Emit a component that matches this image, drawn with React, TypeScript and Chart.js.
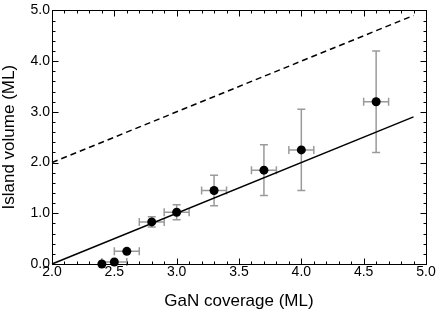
import React, { useEffect, useRef } from "react";
import { Chart, registerables } from "chart.js";

Chart.register(...registerables);

// Measured data
const coverage = [2.4, 2.5, 2.6, 2.8, 3.0, 3.3, 3.7, 4.0, 4.6];
const volume = [0.0, 0.04, 0.25, 0.83, 1.02, 1.45, 1.85, 2.25, 3.2];
const coverageErr = [0, 0.1, 0.1, 0.1, 0.1, 0.1, 0.1, 0.1, 0.1];
const volumeErr = [0, 0, 0, 0.1, 0.15, 0.3, 0.5, 0.8, 1.0];

// Fit line (solid) and reference line (dashed)
const lineX = [2.0, 4.9];
const fitY = [0.0, 2.9];
const refY = [2.0, 4.9];

// Axes
const xMin = 2.0;
const xMax = 5.0;
const xMajorStep = 0.5;
const xMinorStep = 0.1;
const yMin = 0.0;
const yMax = 5.0;
const yMajorStep = 1.0;
const yMinorStep = 0.2;

const FONT = "'Liberation Sans', Arial, Helvetica, sans-serif";

function ticksFrom(min: number, max: number, step: number): number[] {
  const out: number[] = [];
  const n = Math.round((max - min) / step);
  for (let i = 0; i <= n; i++) out.push(min + i * step);
  return out;
}

const framePlugin = {
  id: "frameTicksErr",
  beforeDatasetsDraw(chart: any) {
    const { ctx, chartArea: a, scales } = chart;
    const xs = scales.x;
    const ys = scales.y;
    ctx.save();
    // error bars
    ctx.strokeStyle = "#9a9a9a";
    ctx.lineWidth = 1.5;
    const cap = 4;
    coverage.forEach((cx, i) => {
      const px = xs.getPixelForValue(cx);
      const py = ys.getPixelForValue(volume[i]);
      if (volumeErr[i] > 0) {
        const t = ys.getPixelForValue(volume[i] + volumeErr[i]);
        const b = ys.getPixelForValue(volume[i] - volumeErr[i]);
        ctx.beginPath();
        ctx.moveTo(px, t);
        ctx.lineTo(px, b);
        ctx.moveTo(px - cap, t);
        ctx.lineTo(px + cap, t);
        ctx.moveTo(px - cap, b);
        ctx.lineTo(px + cap, b);
        ctx.stroke();
      }
      if (coverageErr[i] > 0) {
        const l = xs.getPixelForValue(cx - coverageErr[i]);
        const r = xs.getPixelForValue(cx + coverageErr[i]);
        ctx.beginPath();
        ctx.moveTo(l, py);
        ctx.lineTo(r, py);
        ctx.moveTo(l, py - cap);
        ctx.lineTo(l, py + cap);
        ctx.moveTo(r, py - cap);
        ctx.lineTo(r, py + cap);
        ctx.stroke();
      }
    });
    // frame
    ctx.strokeStyle = "#000";
    ctx.lineWidth = 1;
    const L = Math.round(a.left) + 0.5;
    const R = Math.round(a.right) + 0.5;
    const T = Math.round(a.top) + 0.5;
    const B = Math.round(a.bottom) + 0.5;
    ctx.strokeRect(L, T, R - L, B - T);
    // inward ticks on all four sides
    ctx.beginPath();
    ticksFrom(xMin, xMax, xMinorStep).forEach((v) => {
      const r = v / xMajorStep;
      const major = Math.abs(r - Math.round(r)) < 1e-6;
      const len = major ? 6 : 3;
      const px = Math.round(xs.getPixelForValue(v)) + 0.5;
      ctx.moveTo(px, B);
      ctx.lineTo(px, B - len);
      ctx.moveTo(px, T);
      ctx.lineTo(px, T + len);
    });
    ticksFrom(yMin, yMax, yMinorStep).forEach((v) => {
      const r = v / yMajorStep;
      const major = Math.abs(r - Math.round(r)) < 1e-6;
      const len = major ? 6 : 3;
      const py = Math.round(ys.getPixelForValue(v)) + 0.5;
      ctx.moveTo(L, py);
      ctx.lineTo(L + len, py);
      ctx.moveTo(R, py);
      ctx.lineTo(R - len, py);
    });
    ctx.stroke();
    ctx.restore();
  },
};

export default function App() {
  const ref = useRef<HTMLCanvasElement>(null);
  useEffect(() => {
    document.body.style.margin = "0";
    const canvas = ref.current;
    if (!canvas) return;
    const chart = new Chart(canvas, {
      type: "scatter",
      data: {
        datasets: [
          {
            label: "fit",
            data: lineX.map((x, i) => ({ x, y: fitY[i] })),
            showLine: true,
            borderColor: "#000",
            borderWidth: 1.5,
            pointRadius: 0,
            clip: false as any,
          },
          {
            label: "reference",
            data: lineX.map((x, i) => ({ x, y: refY[i] })),
            showLine: true,
            borderColor: "#000",
            borderWidth: 1.5,
            borderDash: [6, 4],
            pointRadius: 0,
            clip: false as any,
          },
          {
            label: "data",
            data: coverage.map((x, i) => ({ x, y: volume[i] })),
            backgroundColor: "#000",
            borderColor: "#000",
            borderWidth: 0,
            pointRadius: 4.5,
            clip: false as any,
          },
        ],
      },
      options: {
        responsive: false,
        animation: false,
        layout: { padding: { top: 5, right: 10, left: 0, bottom: 0 } },
        plugins: {
          legend: { display: false },
          tooltip: { enabled: false },
        },
        scales: {
          x: {
            type: "linear",
            min: xMin,
            max: xMax,
            grid: { display: false, drawTicks: false },
            border: { display: false },
            ticks: {
              stepSize: xMajorStep,
              autoSkip: false,
              maxRotation: 0,
              padding: 0,
              color: "#000",
              font: { family: FONT, size: 14 },
              callback: (v: any) => Number(v).toFixed(1),
            },
            title: {
              display: true,
              text: "GaN coverage (ML)",
              color: "#000",
              font: { family: FONT, size: 17, lineHeight: 1 },
              padding: { top: 0, bottom: 0 },
            },
            afterFit: (s: any) => {
              s.height = 46;
            },
          },
          y: {
            type: "linear",
            min: yMin,
            max: yMax,
            grid: { display: false, drawTicks: false },
            border: { display: false },
            ticks: {
              stepSize: yMajorStep,
              padding: 2,
              color: "#000",
              font: { family: FONT, size: 14 },
              callback: (v: any) => Number(v).toFixed(1),
            },
            title: {
              display: true,
              text: "Island volume (ML)",
              color: "#000",
              font: { family: FONT, size: 17, lineHeight: 1 },
              padding: { top: 1, bottom: 0 },
            },
            afterFit: (s: any) => {
              s.width = 52;
            },
          },
        },
      },
      plugins: [framePlugin],
    });
    return () => chart.destroy();
  }, []);
  return (
    <div style={{ width: 436, height: 310 }}>
      <canvas ref={ref} width={436} height={310} style={{ display: "block" }} />
    </div>
  );
}
